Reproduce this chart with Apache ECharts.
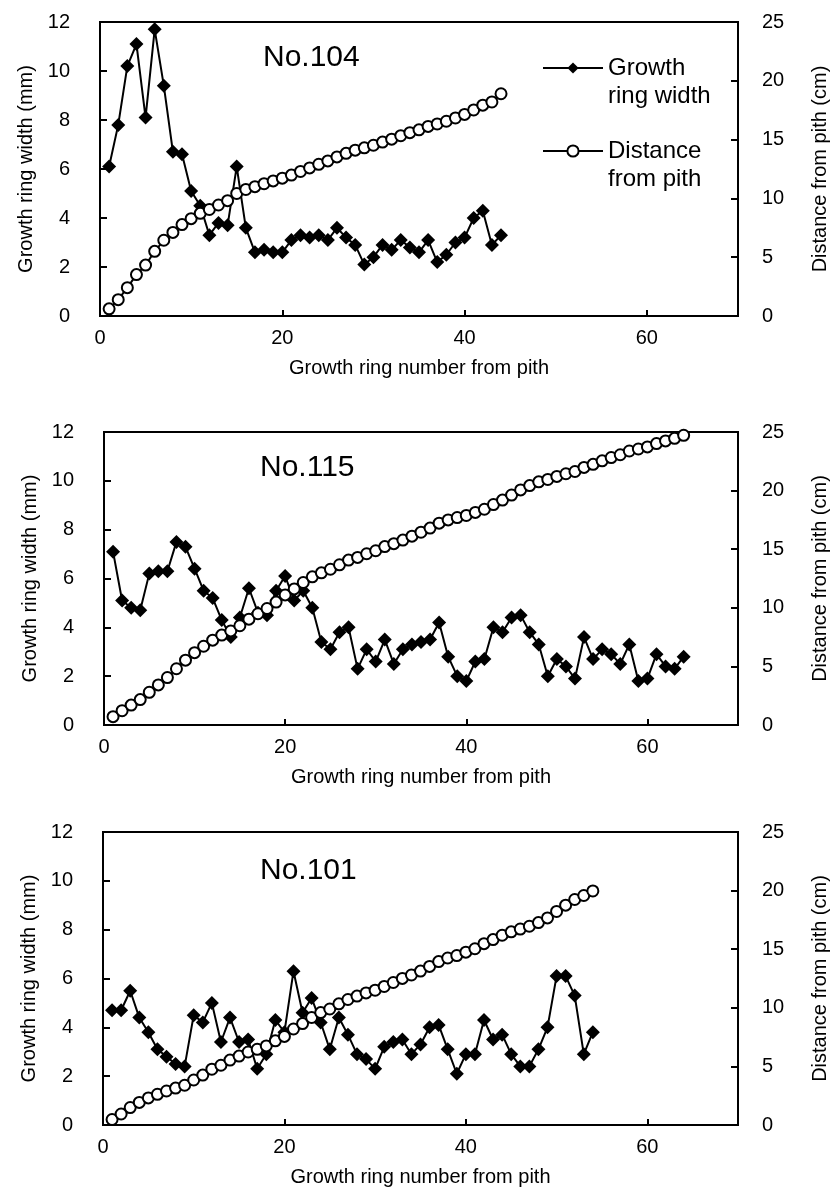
<!DOCTYPE html>
<html>
<head>
<meta charset="utf-8">
<script src="https://cdn.jsdelivr.net/npm/echarts@6/dist/echarts.min.js"></script>
<style>
html, body { margin: 0; padding: 0; background: #fff; }
#main { width: 838px; height: 1194px; }
</style>
</head>
<body>
<div id="main"></div>
<script>
// growth ring width (mm), ring 1 = pith side
var width104 = [6.1, 7.8, 10.2, 11.1, 8.1, 11.7, 9.4, 6.7, 6.6, 5.1, 4.5, 3.3, 3.8, 3.7, 6.1, 3.6, 2.6, 2.7, 2.6, 2.6,
    3.1, 3.3, 3.2, 3.3, 3.1, 3.6, 3.2, 2.9, 2.1, 2.4, 2.9, 2.7, 3.1, 2.8, 2.6, 3.1, 2.2, 2.5, 3.0, 3.2,
    4.0, 4.3, 2.9, 3.3];
var width115 = [7.1, 5.1, 4.8, 4.7, 6.2, 6.3, 6.3, 7.5, 7.3, 6.4, 5.5, 5.2, 4.3, 3.6, 4.4, 5.6, 4.6, 4.5, 5.5, 6.1,
    5.1, 5.5, 4.8, 3.4, 3.1, 3.8, 4.0, 2.3, 3.1, 2.6, 3.5, 2.5, 3.1, 3.3, 3.4, 3.5, 4.2, 2.8, 2.0, 1.8,
    2.6, 2.7, 4.0, 3.8, 4.4, 4.5, 3.8, 3.3, 2.0, 2.7, 2.4, 1.9, 3.6, 2.7, 3.1, 2.9, 2.5, 3.3, 1.8, 1.9,
    2.9, 2.4, 2.3, 2.8];
var width101 = [4.7, 4.7, 5.5, 4.4, 3.8, 3.1, 2.8, 2.5, 2.4, 4.5, 4.2, 5.0, 3.4, 4.4, 3.4, 3.5, 2.3, 2.9, 4.3, 3.8,
    6.3, 4.6, 5.2, 4.2, 3.1, 4.4, 3.7, 2.9, 2.7, 2.3, 3.2, 3.4, 3.5, 2.9, 3.3, 4.0, 4.1, 3.1, 2.1, 2.9,
    2.9, 4.3, 3.5, 3.7, 2.9, 2.4, 2.4, 3.1, 4.0, 6.1, 6.1, 5.3, 2.9, 3.8];

// distance from pith (cm)
var dist104 = [0.61, 1.39, 2.41, 3.52, 4.33, 5.50, 6.44, 7.11, 7.77, 8.28, 8.73, 9.06, 9.44, 9.81, 10.42, 10.76,
    11.00, 11.25, 11.49, 11.72, 11.98, 12.29, 12.59, 12.90, 13.19, 13.53, 13.83, 14.10, 14.30, 14.52,
    14.79, 15.04, 15.33, 15.59, 15.83, 16.12, 16.33, 16.56, 16.84, 17.14, 17.52, 17.93, 18.20, 18.90];
var dist115 = [0.71, 1.22, 1.70, 2.17, 2.79, 3.42, 4.05, 4.80, 5.53, 6.17, 6.72, 7.24, 7.67, 8.03, 8.47, 9.03,
    9.49, 9.94, 10.49, 11.10, 11.61, 12.16, 12.64, 12.98, 13.29, 13.67, 14.07, 14.30, 14.61, 14.87,
    15.22, 15.47, 15.78, 16.11, 16.45, 16.80, 17.22, 17.50, 17.70, 17.88, 18.14, 18.41, 18.81, 19.19,
    19.62, 20.06, 20.43, 20.75, 20.95, 21.21, 21.44, 21.63, 21.98, 22.24, 22.54, 22.82, 23.06, 23.38,
    23.55, 23.73, 24.01, 24.24, 24.46, 24.72];
var dist101 = [0.47, 0.94, 1.49, 1.93, 2.31, 2.62, 2.90, 3.15, 3.39, 3.84, 4.26, 4.76, 5.10, 5.54, 5.88, 6.23,
    6.46, 6.75, 7.18, 7.56, 8.19, 8.65, 9.17, 9.59, 9.90, 10.34, 10.71, 11.00, 11.27, 11.50, 11.82,
    12.16, 12.51, 12.80, 13.13, 13.53, 13.94, 14.25, 14.46, 14.75, 15.04, 15.47, 15.82, 16.19, 16.48,
    16.72, 16.96, 17.27, 17.67, 18.22, 18.76, 19.24, 19.58, 19.97];

var xTicks = [0, 20, 40, 60];
var leftTicks = [0, 2, 4, 6, 8, 10, 12];
var rightTicks = [0, 5, 10, 15, 20, 25];

var font = 'Liberation Sans, Arial, sans-serif';

var panels = [
    { label: 'No.104', w: width104, d: dist104, grid: { left: 100, top: 22, width: 643, height: 294 }, lx: 258, ly: 38 },
    { label: 'No.115', w: width115, d: dist115, grid: { left: 104, top: 432, width: 643, height: 293 }, lx: 255, ly: 448 },
    { label: 'No.101', w: width101, d: dist101, grid: { left: 103, top: 832, width: 644, height: 293 }, lx: 255, ly: 851 }
];

function pairs(arr) {
    var out = [];
    for (var i = 0; i < arr.length; i++) {
        out.push([i + 1, arr[i]]);
    }
    return out;
}

var grids = [], xAxes = [], yAxes = [], series = [], titles = [];
var lineBlack = { color: '#000', width: 2 };

panels.forEach(function (p, i) {
    grids.push(Object.assign({ show: true, borderColor: '#000', borderWidth: 2, backgroundColor: 'transparent' }, p.grid));
    xAxes.push({
        gridIndex: i, type: 'value', min: xTicks[0], max: 70, interval: xTicks[1] - xTicks[0],
        axisLine: { lineStyle: lineBlack },
        axisTick: { inside: true, length: 6, lineStyle: lineBlack },
        axisLabel: { fontSize: 20, color: '#000', fontFamily: font, margin: 12, showMaxLabel: false },
        splitLine: { show: false },
        name: 'Growth ring number from pith', nameLocation: 'middle', nameGap: 42,
        nameTextStyle: { fontSize: 20, color: '#000', fontFamily: font }
    });
    yAxes.push({
        gridIndex: i, type: 'value', position: 'left', min: leftTicks[0], max: leftTicks[leftTicks.length - 1],
        interval: leftTicks[1] - leftTicks[0],
        axisLine: { show: true, lineStyle: lineBlack },
        axisTick: { show: true, inside: true, length: 7, lineStyle: lineBlack },
        axisLabel: { fontSize: 20, color: '#000', fontFamily: font, margin: 30 },
        splitLine: { show: false },
        name: 'Growth ring width (mm)', nameLocation: 'middle', nameGap: 60,
        nameTextStyle: { fontSize: 20, color: '#000', fontFamily: font }
    });
    yAxes.push({
        gridIndex: i, type: 'value', position: 'right', min: rightTicks[0], max: rightTicks[rightTicks.length - 1],
        interval: rightTicks[1] - rightTicks[0],
        axisLine: { show: true, lineStyle: lineBlack },
        axisTick: { show: true, inside: true, length: 7, lineStyle: lineBlack },
        axisLabel: { fontSize: 20, color: '#000', fontFamily: font, margin: 24 },
        splitLine: { show: false },
        name: 'Distance from pith (cm)', nameLocation: 'middle', nameGap: 72,
        nameTextStyle: { fontSize: 20, color: '#000', fontFamily: font }
    });
    series.push({
        name: 'Growth ring width', type: 'line', xAxisIndex: i, yAxisIndex: 2 * i,
        data: pairs(p.w), symbol: 'diamond', symbolSize: 14, showAllSymbol: true,
        itemStyle: { color: '#000' }, lineStyle: { color: '#000', width: 2 },
        animation: false, z: 2
    });
    series.push({
        name: 'Distance from pith', type: 'line', xAxisIndex: i, yAxisIndex: 2 * i + 1,
        data: pairs(p.d), symbol: 'circle', symbolSize: 11, showAllSymbol: true,
        itemStyle: { color: '#fff', borderColor: '#000', borderWidth: 2 },
        lineStyle: { color: '#000', width: 2 },
        animation: false, z: 3
    });
    titles.push({
        text: p.label, left: p.lx, top: p.ly,
        textStyle: { fontSize: 30, fontWeight: 'normal', color: '#000', fontFamily: font }
    });
});

// legend text: blank first line so the icon sits beside the first word line
var legendText = {
    'Growth ring width': '\u00a0\nGrowth\nring width',
    'Distance from pith': '\u00a0\nDistance\nfrom pith'
};

var myChart = echarts.init(document.getElementById('main'));
var option = {
    backgroundColor: '#fff',
    animation: false,
    title: titles,
    legend: {
        data: ['Growth ring width', 'Distance from pith'],
        orient: 'vertical', left: 542, top: 26, padding: 0, itemGap: -1,
        itemWidth: 60, itemHeight: 14,
        formatter: function (n) { return legendText[n]; },
        textStyle: { fontSize: 24, lineHeight: 28, color: '#000', fontFamily: font }
    },
    grid: grids,
    xAxis: xAxes,
    yAxis: yAxes,
    series: series
};
myChart.setOption(option);
</script>
</body>
</html>
